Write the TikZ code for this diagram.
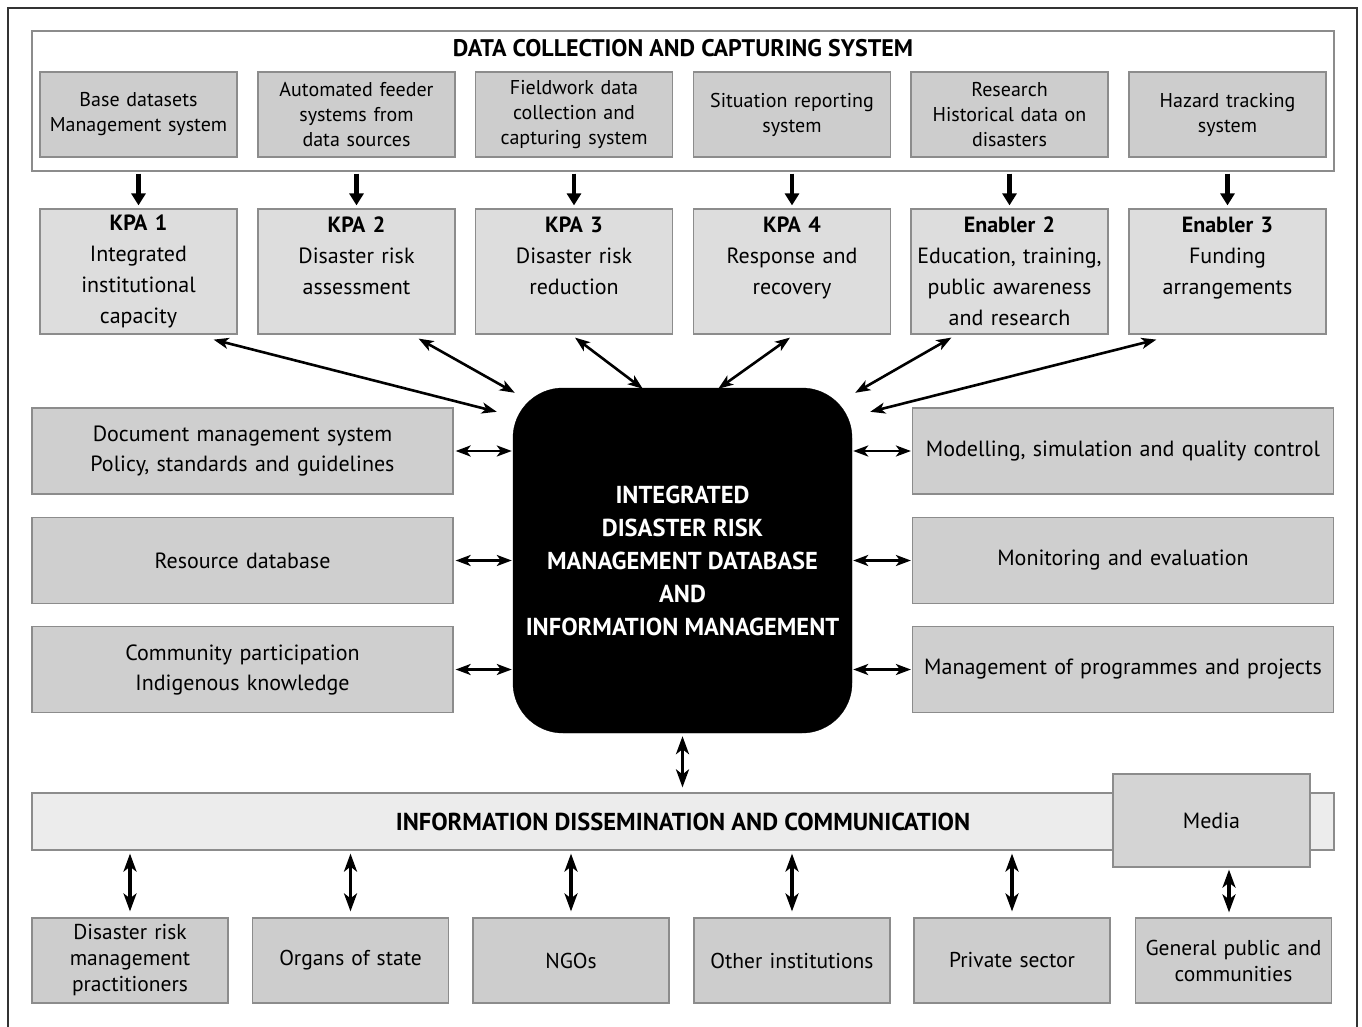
\documentclass[tikz,border=0pt]{standalone}
\usepackage{fontspec}
\setmainfont{PT Sans}
\usetikzlibrary{arrows.meta}

\definecolor{boxline}{HTML}{8C8C8C}
\definecolor{srcfill}{HTML}{CDCDCD}
\definecolor{kpafill}{HTML}{DDDDDD}
\definecolor{sidefill}{HTML}{CFCFCF}
\definecolor{barfill}{HTML}{ECECEC}
\definecolor{mediafill}{HTML}{D4D4D4}

\tikzset{
	box/.style={draw=boxline,line width=1.2pt,inner sep=0pt,align=center,minimum width=197pt,minimum height=85pt,text width=194pt},
	srcbox/.style={box,fill=srcfill,font=\fontsize{20}{25}\selectfont},
	kpabox/.style={box,fill=kpafill,minimum height=125pt,font=\fontsize{22}{31}\selectfont},
	sidebox/.style={box,fill=sidefill,minimum width=421pt,minimum height=86pt,text width=414pt,font=\fontsize{22}{30}\selectfont},
	peerbox/.style={box,fill=srcfill,minimum width=196pt,text width=192pt,font=\fontsize{21.5}{26}\selectfont},
	feed/.style={-{Triangle[length=12pt,width=14pt]},line width=4.5pt,shorten <=2pt,shorten >=3pt},
	link/.style={{Stealth[length=15pt,width=11pt,inset=4pt]}-{Stealth[length=15pt,width=11pt,inset=4pt]},line width=2.6pt},
	spread/.style={{Stealth[length=18pt,width=13pt,inset=5pt]}-{Stealth[length=18pt,width=13pt,inset=5pt]},line width=3.2pt}
}

\begin{document}
\begin{tikzpicture}[x=1pt,y=-1pt]
	\useasboundingbox (0,0) rectangle (1362,1027);
	
	%outer frame
	\draw[line width=1.5pt,black!80] (8,1027)--(8,8)--(1357,8)--(1357,1027);
	
	%data collection
	\node[draw=boxline,line width=1.2pt,fill=white,minimum width=1302pt,minimum height=140pt] (data) at (683,101) {};
	\node[font=\bfseries\fontsize{24}{28}\selectfont] (datatitle) at (683,48) {DATA COLLECTION AND CAPTURING SYSTEM};
	\node[srcbox] (base)   at (138.5,114.5)  {Base datasets\\Management system};
	\node[srcbox] (feeder) at (356.5,114.5)  {Automated feeder\\systems from\\data sources};
	\node[srcbox] (field)  at (574,114.5)    {Fieldwork data\\collection and\\capturing system};
	\node[srcbox] (situ)   at (792,114.5)    {Situation reporting\\system};
	\node[srcbox] (hist)   at (1009.5,114.5) {Research\\Historical data on\\disasters};
	\node[srcbox] (hazard) at (1227.5,114.5) {Hazard tracking\\system};
	
	%kpa and enablers
	\node[kpabox] (kpa1) at (138.5,271.5)  {\textbf{KPA 1}\\Integrated\\institutional\\capacity};
	\node[kpabox] (kpa2) at (356.5,271.5)  {\textbf{KPA 2}\\Disaster risk\\assessment\\\mbox{}};
	\node[kpabox] (kpa3) at (574,271.5)    {\textbf{KPA 3}\\Disaster risk\\reduction\\\mbox{}};
	\node[kpabox] (kpa4) at (792,271.5)    {\textbf{KPA 4}\\Response and\\recovery\\\mbox{}};
	\node[kpabox] (en2)  at (1009.5,271.5) {\textbf{Enabler 2}\\Education, training,\\public awareness\\and research};
	\node[kpabox] (en3)  at (1227.5,271.5) {\textbf{Enabler 3}\\Funding\\arrangements\\\mbox{}};
	
	%core
	\node[fill=black,draw=black,rounded corners=50pt,minimum width=339pt,minimum height=345pt,align=center,text=white,font=\bfseries\fontsize{24.5}{33}\selectfont] (core) at (682.5,560.5)
		{INTEGRATED\\DISASTER RISK\\MANAGEMENT DATABASE\\AND\\INFORMATION MANAGEMENT};
	
	%side boxes
	\node[sidebox] (docs)     at (242.5,451)  {Document management system\\Policy, standards and guidelines};
	\node[sidebox] (resdb)    at (242.5,560.5){Resource database};
	\node[sidebox] (commpart) at (242.5,669.5){Community participation\\Indigenous knowledge};
	\node[sidebox] (model)    at (1123,451)   {Modelling, simulation and quality control};
	\node[sidebox] (moneval)  at (1123,560.5) {Monitoring and evaluation};
	\node[sidebox] (progman)  at (1123,669.5) {Management of programmes and projects};
	
	%dissemination
	\node[draw=boxline,line width=1.2pt,fill=barfill,minimum width=1302pt,minimum height=57pt,font=\bfseries\fontsize{24.5}{28}\selectfont] (info) at (683,821.5) {INFORMATION DISSEMINATION AND COMMUNICATION};
	\node[box,fill=mediafill,minimum height=93pt,font=\fontsize{22}{26}\selectfont] (media) at (1211.5,820.5) {Media};
	
	%receivers
	\node[peerbox] (prac)      at (130,960.5)    {Disaster risk\\management\\practitioners};
	\node[peerbox] (organs)    at (350.5,960.5)  {Organs of state};
	\node[peerbox] (ngos)      at (571,960.5)    {NGOs};
	\node[peerbox] (otherinst) at (792,960.5)    {Other institutions};
	\node[peerbox] (privsec)   at (1012,960.5)   {Private sector};
	\node[peerbox] (public)    at (1233.5,960.5) {General public and\\communities};
	
	%feed arrows
	\draw[feed] (base.south |- data.south)   -- (kpa1.north);
	\draw[feed] (feeder.south |- data.south) -- (kpa2.north);
	\draw[feed] (field.south |- data.south)  -- (kpa3.north);
	\draw[feed] (situ.south |- data.south)   -- (kpa4.north);
	\draw[feed] (hist.south |- data.south)   -- (en2.north);
	\draw[feed] (hazard.south |- data.south) -- (en3.north);
	
	%links to core
	\draw[link] ([xshift=-24pt,yshift=-5pt]kpa1.south east) -- ([xshift=-16pt,yshift=-24pt]core.north west);
	\draw[link] ([xshift=-37pt,yshift=-4pt]kpa2.south east) -- ([xshift=2pt,yshift=-5pt]core.north west);
	\draw[link] ([xshift=1pt,yshift=-3pt]kpa3.south)        -- ([xshift=130pt,yshift=-1pt]core.north west);
	\draw[link] ([xshift=-2pt,yshift=-3pt]kpa4.south)       -- ([xshift=-134pt,yshift=-1pt]core.north east);
	\draw[link] ([xshift=41pt,yshift=-3pt]en2.south west)   -- ([xshift=3pt,yshift=-5pt]core.north east);
	\draw[link] ([xshift=28pt,yshift=-5pt]en3.south west)   -- ([xshift=18pt,yshift=-24pt]core.north east);
	%
	\draw[link,shorten <=2pt,shorten >=1pt] (docs.east)     -- (docs.east -| core.west);
	\draw[link,shorten <=2pt,shorten >=1pt] (resdb.east)    -- (resdb.east -| core.west);
	\draw[link,shorten <=2pt,shorten >=1pt] (commpart.east) -- (commpart.east -| core.west);
	\draw[link,shorten <=1pt,shorten >=1pt] (model.west -| core.east)   -- (model.west);
	\draw[link,shorten <=1pt,shorten >=1pt] (moneval.west -| core.east) -- (moneval.west);
	\draw[link,shorten <=1pt,shorten >=1pt] (progman.west -| core.east) -- (progman.west);
	\draw[spread,line width=3pt,shorten <=3pt,shorten >=5pt] (core.south) -- (info.north -| core.south);
	
	%links to receivers
	\draw[spread,shorten <=3pt,shorten >=6pt] (info.south -| prac.north)      -- (prac.north);
	\draw[spread,shorten <=3pt,shorten >=6pt] (info.south -| organs.north)    -- (organs.north);
	\draw[spread,shorten <=3pt,shorten >=6pt] (info.south -| ngos.north)      -- (ngos.north);
	\draw[spread,shorten <=3pt,shorten >=6pt] (info.south -| otherinst.north) -- (otherinst.north);
	\draw[spread,shorten <=3pt,shorten >=6pt] (info.south -| privsec.north)   -- (privsec.north);
	\draw[spread] ([xshift=17.5pt,yshift=-2pt]media.south) -- ([xshift=-4.5pt,yshift=5pt]public.north);
\end{tikzpicture}
\end{document}
